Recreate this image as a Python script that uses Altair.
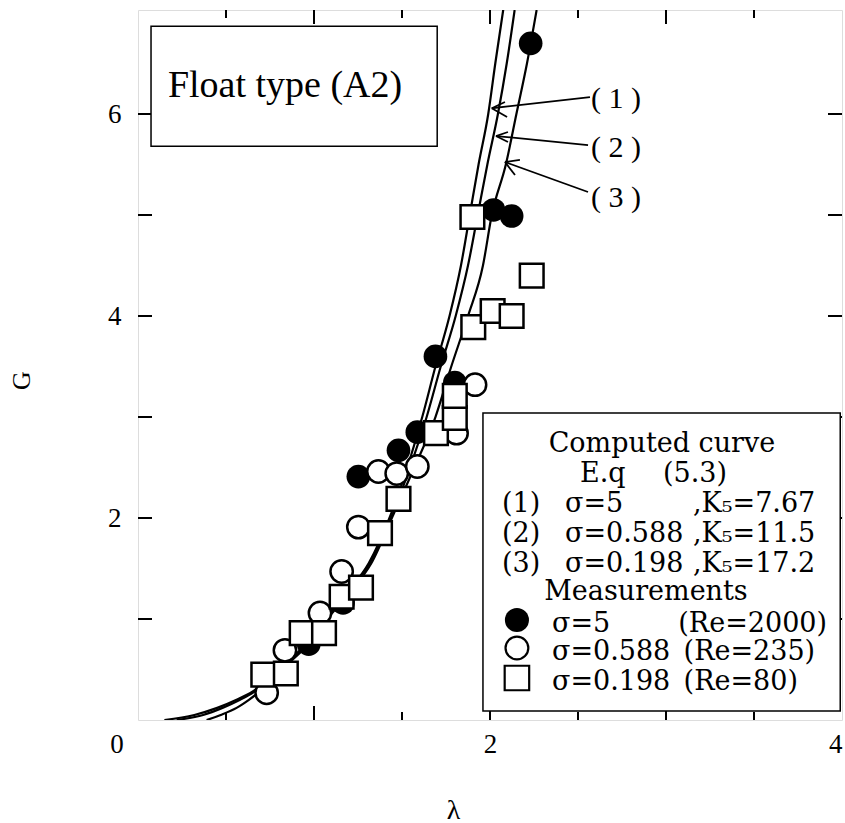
import altair as alt
import pandas as pd

# ---- computed curves: lambda at given G levels ----
curve_G = [0, 0.05, 0.12, 0.2, 0.28, 0.5, 0.7, 1.0, 1.25, 1.55, 2.05, 2.5, 3.0, 3.5, 4.0, 4.5, 5.0, 5.5, 6.0, 6.5, 7.03]
curve1_lam = [0.15, 0.32, 0.45, 0.56, 0.65, 0.80, 0.925, 1.06, 1.18, 1.31, 1.44, 1.53, 1.615, 1.69, 1.77, 1.835, 1.885, 1.935, 1.99, 2.03, 2.075]
curve2_lam = [0.22, 0.37, 0.48, 0.58, 0.66, 0.805, 0.93, 1.065, 1.185, 1.315, 1.45, 1.545, 1.64, 1.72, 1.805, 1.875, 1.93, 1.985, 2.045, 2.095, 2.14]
curve3_lam = [0.39, 0.47, 0.56, 0.63, 0.69, 0.815, 0.94, 1.075, 1.195, 1.325, 1.455, 1.57, 1.69, 1.78, 1.875, 1.96, 2.01, 2.09, 2.15, 2.21, 2.265]

# ---- measurements ----
s5_lam = [0.97, 1.165, 1.252, 1.48, 1.587, 1.69, 1.80, 2.02, 2.123, 2.231]
s5_G = [0.75, 1.16, 2.41, 2.67, 2.85, 3.60, 3.34, 5.05, 4.99, 6.70]
s588_lam = [0.731, 0.835, 1.034, 1.157, 1.252, 1.366, 1.47, 1.587, 1.81, 1.915]
s588_G = [0.27, 0.69, 1.06, 1.47, 1.91, 2.46, 2.44, 2.51, 2.84, 3.32]
s198_lam = [0.712, 0.84, 0.93, 1.057, 1.157, 1.267, 1.375, 1.48, 1.693, 1.80, 1.80, 1.905, 2.015, 2.123, 2.237, 1.90]
s198_G = [0.45, 0.46, 0.86, 0.86, 1.22, 1.31, 1.85, 2.19, 2.84, 2.99, 3.21, 3.89, 4.05, 4.0, 4.40, 4.98]

# ---- axis ticks / labels ----
x_label_values = [2, 4]
y_label_values = [2, 4, 6]
x_major_ticks = [1, 2, 3]
x_minor_ticks = [0.5, 1.5, 2.5, 3.5]
y_ticks = [1, 2, 3, 4, 5, 6]

# ---- annotation texts ----
title_box_text = "Float type (A2)"
legend_pieces = [
    "Computed curve", "E.q", "(5.3)",
    "(1)", "\u03c3=5", ",K\u2085=7.67",
    "(2)", "\u03c3=0.588", ",K\u2085=11.5",
    "(3)", "\u03c3=0.198", ",K\u2085=17.2",
    "Measurements",
    "\u03c3=5", "(Re=2000)",
    "\u03c3=0.588", "(Re=235)",
    "\u03c3=0.198", "(Re=80)",
]
legend_piece_lam = [
    2.977, 2.511, 2.983,
    2.068, 2.426, 3.153,
    2.068, 2.426, 3.153,
    2.068, 2.426, 3.153,
    2.886,
    2.352, 3.07,
    2.352, 3.10,
    2.352, 3.10,
]
legend_piece_G = [
    2.653, 2.356, 2.356,
    2.059, 2.059, 2.059,
    1.762, 1.762, 1.762,
    1.465, 1.465, 1.465,
    1.188,
    0.871, 0.871,
    0.594, 0.594,
    0.297, 0.297,
]
legend_piece_align = [
    "center", "left", "left",
    "left", "left", "left",
    "left", "left", "left",
    "left", "left", "left",
    "center",
    "left", "left",
    "left", "left",
    "left", "left",
]
arrow_labels = ["(\u00a01\u00a0)", "(\u00a02\u00a0)", "(\u00a03\u00a0)"]
arrow_label_lam = [2.716, 2.716, 2.716]
arrow_label_G = [6.06, 5.574, 5.079]
arrow_start_lam = [2.568, 2.557, 2.557]
arrow_start_G = [6.168, 5.693, 5.228]
arrow_tip_lam = [2.010, 2.034, 2.085]
arrow_tip_G = [6.057, 5.782, 5.525]
barb1_lam = [2.085, 2.102, 2.170]
barb1_G = [6.119, 5.822, 5.545]
barb2_lam = [2.097, 2.102, 2.142]
barb2_G = [5.970, 5.723, 5.396]

W, H = 704, 710
SERIF = "Liberation Serif"
LEGSERIF = "DejaVu Serif"

xs = alt.Scale(domain=[0, 4], nice=False, zero=False)
ys = alt.Scale(domain=[0, 7.03], nice=False, zero=False)


def X(field="lam"):
    return alt.X(f"{field}:Q", scale=xs, axis=alt.Axis(
        values=x_label_values, domain=False, ticks=False, grid=False,
        labelFont=SERIF, labelFontSize=27, labelPadding=11, labelColor="black",
        labelFlush=True, title="\u03bb", titleFont=SERIF, titleFontSize=28,
        titleFontWeight="normal", titleColor="black", titleX=315, titleY=90,
        titleBaseline="middle", titleAlign="center"))


def Y(field="G"):
    return alt.Y(f"{field}:Q", scale=ys, axis=alt.Axis(
        values=y_label_values, domain=False, ticks=False, grid=False,
        labelFont=SERIF, labelFontSize=27, labelPadding=17, labelColor="black",
        labelFlush=False, title="G", titleFont=SERIF, titleFontSize=26,
        titleFontWeight="normal", titleColor="black", titleX=-117, titleY=370,
        titleAngle=-90, titleBaseline="middle", titleAlign="center"))


curves = pd.DataFrame({
    "lam": curve1_lam + curve2_lam + curve3_lam,
    "G": curve_G * 3,
    "curve": ["1"] * len(curve_G) + ["2"] * len(curve_G) + ["3"] * len(curve_G),
})
meas5 = pd.DataFrame({"lam": s5_lam, "G": s5_G})
meas588 = pd.DataFrame({"lam": s588_lam, "G": s588_G})
meas198 = pd.DataFrame({"lam": s198_lam, "G": s198_G})

curve_layer = alt.Chart(curves).mark_line(
    color="black", strokeWidth=2.2, interpolate="monotone", clip=True
).encode(x=X(), y=Y(), detail="curve:N")

pt5 = alt.Chart(meas5).mark_point(
    shape="circle", filled=True, color="black", size=560, opacity=1
).encode(x=X(), y=Y())
pt588 = alt.Chart(meas588).mark_point(
    shape="circle", filled=True, fill="white", stroke="black", strokeWidth=2.5,
    size=500, opacity=1
).encode(x=X(), y=Y())
pt198 = alt.Chart(meas198).mark_point(
    shape="square", filled=True, fill="white", stroke="black", strokeWidth=2.5,
    size=560, opacity=1
).encode(x=X(), y=Y())

# ticks (inward)
xmaj = pd.DataFrame({"lam": x_major_ticks})
xmin = pd.DataFrame({"lam": x_minor_ticks})
yt = pd.DataFrame({"G": y_ticks})
tick_layers = [
    alt.Chart(xmaj).mark_rule(color="black", strokeWidth=2).encode(x=X(), y=alt.value(H), y2=alt.value(H - 14)),
    alt.Chart(xmaj).mark_rule(color="black", strokeWidth=2).encode(x=X(), y=alt.value(0), y2=alt.value(14)),
    alt.Chart(xmin).mark_rule(color="black", strokeWidth=2).encode(x=X(), y=alt.value(H), y2=alt.value(H - 8)),
    alt.Chart(xmin).mark_rule(color="black", strokeWidth=2).encode(x=X(), y=alt.value(0), y2=alt.value(8)),
    alt.Chart(yt).mark_rule(color="black", strokeWidth=2).encode(y=Y(), x=alt.value(0), x2=alt.value(14)),
    alt.Chart(yt).mark_rule(color="black", strokeWidth=2).encode(y=Y(), x=alt.value(W), x2=alt.value(W - 14)),
]

# origin label "0"
zero_df = pd.DataFrame({"lam": [-0.119], "G": [-0.248], "t": ["0"]})
zero_layer = alt.Chart(zero_df).mark_text(
    font=SERIF, fontSize=27, color="black", baseline="middle", align="center"
).encode(x=X(), y=Y(), text="t:N")

# boxes
boxes = pd.DataFrame({
    "lam": [0.074, 1.96], "lam2": [1.70, 3.99],
    "G": [6.87, 3.04], "G2": [5.68, 0.09],
})
box_layer = alt.Chart(boxes).mark_rect(
    fill="white", stroke="black", strokeWidth=1.5
).encode(x=X(), x2="lam2:Q", y=Y(), y2="G2:Q")

title_df = pd.DataFrame({"lam": [0.170], "G": [6.168], "t": [title_box_text]})
title_layer = alt.Chart(title_df).mark_text(
    font=SERIF, fontSize=38, color="black", align="left", baseline="alphabetic"
).encode(x=X(), y=Y(), text="t:N")

leg_df = pd.DataFrame({"lam": legend_piece_lam, "G": legend_piece_G,
                       "t": legend_pieces, "a": legend_piece_align})
leg_left = alt.Chart(leg_df).transform_filter(alt.datum.a == "left").mark_text(
    font=LEGSERIF, fontSize=27, color="black", align="left", baseline="alphabetic"
).encode(x=X(), y=Y(), text="t:N")
leg_center = alt.Chart(leg_df).transform_filter(alt.datum.a == "center").mark_text(
    font=LEGSERIF, fontSize=27, color="black", align="center", baseline="alphabetic"
).encode(x=X(), y=Y(), text="t:N")

leg_m5 = alt.Chart(pd.DataFrame({"lam": [2.153], "G": [0.990]})).mark_point(
    shape="circle", filled=True, color="black", size=580, opacity=1
).encode(x=X(), y=Y())
leg_m588 = alt.Chart(pd.DataFrame({"lam": [2.153], "G": [0.713]})).mark_point(
    shape="circle", filled=True, fill="white", stroke="black", strokeWidth=2.2, size=520, opacity=1
).encode(x=X(), y=Y())
leg_m198 = alt.Chart(pd.DataFrame({"lam": [2.153], "G": [0.416]})).mark_point(
    shape="square", filled=True, fill="white", stroke="black", strokeWidth=2.2, size=600, opacity=1
).encode(x=X(), y=Y())

# arrows
arrows = pd.DataFrame({
    "lam": arrow_start_lam + arrow_tip_lam + arrow_tip_lam,
    "G": arrow_start_G + arrow_tip_G + arrow_tip_G,
    "lam2": arrow_tip_lam + barb1_lam + barb2_lam,
    "G2": arrow_tip_G + barb1_G + barb2_G,
})
arrow_layer = alt.Chart(arrows).mark_rule(color="black", strokeWidth=1.8).encode(
    x=X(), y=Y(), x2="lam2:Q", y2="G2:Q")
alab_df = pd.DataFrame({"lam": arrow_label_lam, "G": arrow_label_G, "t": arrow_labels})
alab_layer = alt.Chart(alab_df).mark_text(
    font=SERIF, fontSize=30, color="black", align="center", baseline="alphabetic"
).encode(x=X(), y=Y(), text="t:N")

chart = alt.layer(
    curve_layer, *tick_layers, pt5, pt588, pt198, zero_layer, box_layer,
    title_layer, leg_left, leg_center, leg_m5, leg_m588, leg_m198, arrow_layer, alab_layer
).properties(
    width=W, height=H,
    autosize=alt.AutoSizeParams(type="none"),
    padding={"left": 138, "top": 10, "right": 3, "bottom": 103},
).configure_view(
    stroke="black", strokeWidth=2
).configure(background="white")

chart.save("out.html", embed_options={"renderer": "svg", "actions": False})
